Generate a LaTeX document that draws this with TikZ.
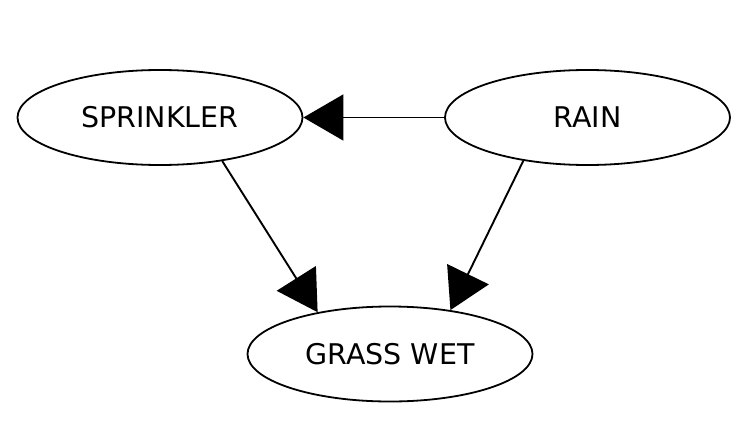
\documentclass[tikz,border=0pt]{standalone}
\usepackage{fontspec}
\setmainfont{DejaVu Sans}
\usetikzlibrary{shapes.geometric,arrows.meta}
\begin{document}
\begin{tikzpicture}[x=1pt,y=-1pt,
  bnode/.style={draw=black,ellipse,line width=1.8pt,minimum width=285pt,minimum height=95pt,inner sep=0pt,font=\fontsize{28.5}{34}\selectfont},
  edge/.style={draw=black,line width=1.9pt,-{Triangle[length=40pt,width=46pt]}}]
\useasboundingbox (0,0) rectangle (743,420);
\node[bnode] (spr) at (160,117.5) {SPRINKLER};
\node[bnode] (rain) at (587.5,117.5) {RAIN};
\node[bnode] (grass) at (390,354) {GRASS WET};
\draw[edge] (rain.west) -- (spr.east);
\draw[edge] (spr.-35) -- (grass.150);
\draw[edge] (rain.214) -- (grass.36);
\end{tikzpicture}
\end{document}
